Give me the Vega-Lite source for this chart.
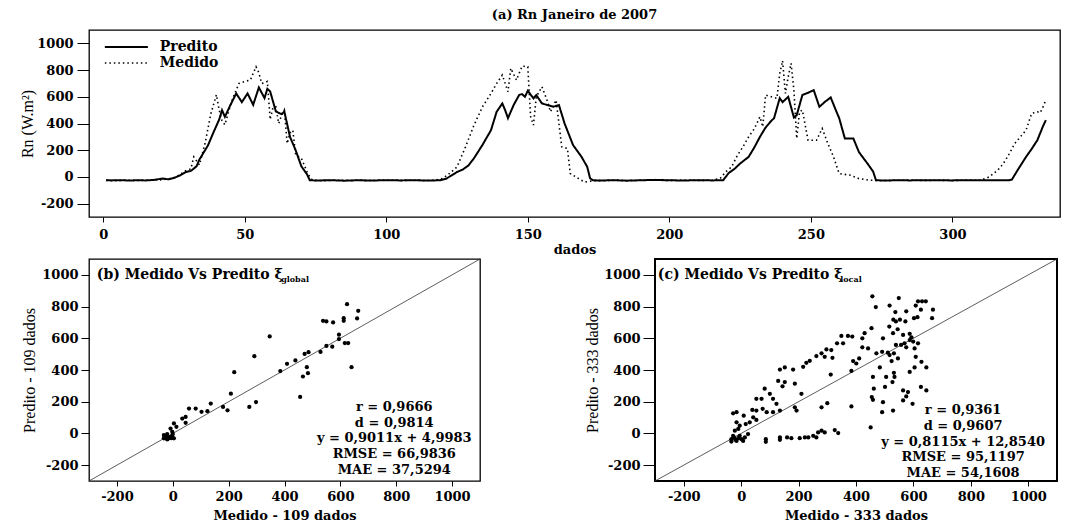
{
  "$schema": "https://vega.github.io/schema/vega-lite/v6.json",
  "background": "white",
  "padding": {"left": 19, "top": 8, "right": 3, "bottom": 0},
  "spacing": 0,
  "config": {
    "font": "DejaVu Serif",
    "view": {"stroke": "black", "strokeWidth": 1.3},
    "axis": {"domain": false, "grid": false, "ticks": true, "tickColor": "black", "tickWidth": 1, "labelColor": "black", "labelFont": "DejaVu Serif", "labelFontWeight": "bold", "labelFontSize": 13, "titleColor": "black", "labelFlush": false, "labelOverlap": false},
    "axisX": {"titleFont": "DejaVu Serif", "titleFontWeight": "bold", "titleFontSize": 13},
    "axisY": {"titleFont": "Liberation Serif", "titleFontWeight": "normal", "titleFontSize": 16},
    "title": {"font": "DejaVu Serif", "fontWeight": "bold", "fontSize": 13, "color": "black"}
  },
  "datasets": {
    "rn": [
      {"i":1,"s":"Predito","v":-25},{"i":3,"s":"Predito","v":-26},{"i":6,"s":"Predito","v":-24},{"i":9,"s":"Predito","v":-27},{"i":12,"s":"Predito","v":-25},{"i":15,"s":"Predito","v":-26},{"i":18,"s":"Predito","v":-22},{"i":21,"s":"Predito","v":-12},{"i":23,"s":"Predito","v":-18},{"i":25,"s":"Predito","v":-8},{"i":27,"s":"Predito","v":10},{"i":29,"s":"Predito","v":35},{"i":31,"s":"Predito","v":45},{"i":33,"s":"Predito","v":80},{"i":34,"s":"Predito","v":130},{"i":36,"s":"Predito","v":200},{"i":37,"s":"Predito","v":235},{"i":39,"s":"Predito","v":335},{"i":41,"s":"Predito","v":430},{"i":42,"s":"Predito","v":500},{"i":43,"s":"Predito","v":450},{"i":45,"s":"Predito","v":540},{"i":47,"s":"Predito","v":625},{"i":49,"s":"Predito","v":560},{"i":51,"s":"Predito","v":625},{"i":53,"s":"Predito","v":540},{"i":55,"s":"Predito","v":670},{"i":57,"s":"Predito","v":590},{"i":58,"s":"Predito","v":660},{"i":59,"s":"Predito","v":640},{"i":61,"s":"Predito","v":490},{"i":63,"s":"Predito","v":470},{"i":64,"s":"Predito","v":490},{"i":66,"s":"Predito","v":300},{"i":68,"s":"Predito","v":200},{"i":70,"s":"Predito","v":80},{"i":72,"s":"Predito","v":20},{"i":73,"s":"Predito","v":-25},{"i":76,"s":"Predito","v":-27},{"i":80,"s":"Predito","v":-24},{"i":85,"s":"Predito","v":-28},{"i":90,"s":"Predito","v":-25},{"i":95,"s":"Predito","v":-27},{"i":100,"s":"Predito","v":-24},{"i":105,"s":"Predito","v":-26},{"i":110,"s":"Predito","v":-25},{"i":115,"s":"Predito","v":-27},{"i":119,"s":"Predito","v":-25},{"i":121,"s":"Predito","v":-15},{"i":123,"s":"Predito","v":10},{"i":125,"s":"Predito","v":37},{"i":127,"s":"Predito","v":55},{"i":129,"s":"Predito","v":85},{"i":131,"s":"Predito","v":140},{"i":134,"s":"Predito","v":240},{"i":137,"s":"Predito","v":350},{"i":139,"s":"Predito","v":488},{"i":141,"s":"Predito","v":550},{"i":142,"s":"Predito","v":500},{"i":143,"s":"Predito","v":440},{"i":145,"s":"Predito","v":538},{"i":147,"s":"Predito","v":615},{"i":148,"s":"Predito","v":620},{"i":149,"s":"Predito","v":600},{"i":150,"s":"Predito","v":645},{"i":152,"s":"Predito","v":588},{"i":153,"s":"Predito","v":613},{"i":155,"s":"Predito","v":550},{"i":157,"s":"Predito","v":538},{"i":159,"s":"Predito","v":525},{"i":161,"s":"Predito","v":538},{"i":163,"s":"Predito","v":400},{"i":166,"s":"Predito","v":238},{"i":169,"s":"Predito","v":150},{"i":171,"s":"Predito","v":75},{"i":172,"s":"Predito","v":-10},{"i":173,"s":"Predito","v":-25},{"i":176,"s":"Predito","v":-27},{"i":180,"s":"Predito","v":-24},{"i":185,"s":"Predito","v":-28},{"i":190,"s":"Predito","v":-25},{"i":195,"s":"Predito","v":-22},{"i":200,"s":"Predito","v":-25},{"i":205,"s":"Predito","v":-27},{"i":210,"s":"Predito","v":-24},{"i":215,"s":"Predito","v":-26},{"i":219,"s":"Predito","v":-25},{"i":221,"s":"Predito","v":30},{"i":223,"s":"Predito","v":60},{"i":225,"s":"Predito","v":100},{"i":228,"s":"Predito","v":150},{"i":230,"s":"Predito","v":220},{"i":232,"s":"Predito","v":300},{"i":234,"s":"Predito","v":370},{"i":236,"s":"Predito","v":420},{"i":237,"s":"Predito","v":440},{"i":239,"s":"Predito","v":590},{"i":240,"s":"Predito","v":560},{"i":242,"s":"Predito","v":600},{"i":244,"s":"Predito","v":445},{"i":245,"s":"Predito","v":463},{"i":247,"s":"Predito","v":613},{"i":249,"s":"Predito","v":630},{"i":251,"s":"Predito","v":650},{"i":253,"s":"Predito","v":525},{"i":255,"s":"Predito","v":563},{"i":257,"s":"Predito","v":595},{"i":259,"s":"Predito","v":490},{"i":260,"s":"Predito","v":440},{"i":262,"s":"Predito","v":288},{"i":265,"s":"Predito","v":288},{"i":267,"s":"Predito","v":185},{"i":270,"s":"Predito","v":100},{"i":272,"s":"Predito","v":40},{"i":273,"s":"Predito","v":-25},{"i":276,"s":"Predito","v":-27},{"i":280,"s":"Predito","v":-25},{"i":285,"s":"Predito","v":-26},{"i":290,"s":"Predito","v":-24},{"i":295,"s":"Predito","v":-25},{"i":300,"s":"Predito","v":-26},{"i":305,"s":"Predito","v":-24},{"i":310,"s":"Predito","v":-25},{"i":315,"s":"Predito","v":-25},{"i":320,"s":"Predito","v":-25},{"i":321,"s":"Predito","v":-20},{"i":323,"s":"Predito","v":50},{"i":326,"s":"Predito","v":150},{"i":328,"s":"Predito","v":210},{"i":330,"s":"Predito","v":275},{"i":332,"s":"Predito","v":380},{"i":333,"s":"Predito","v":425},
      {"i":1,"s":"Medido","v":-25},{"i":4,"s":"Medido","v":-28},{"i":8,"s":"Medido","v":-24},{"i":12,"s":"Medido","v":-27},{"i":16,"s":"Medido","v":-25},{"i":20,"s":"Medido","v":-22},{"i":23,"s":"Medido","v":-15},{"i":25,"s":"Medido","v":-5},{"i":27,"s":"Medido","v":15},{"i":29,"s":"Medido","v":45},{"i":31,"s":"Medido","v":60},{"i":32,"s":"Medido","v":150},{"i":33,"s":"Medido","v":120},{"i":34,"s":"Medido","v":90},{"i":36,"s":"Medido","v":250},{"i":38,"s":"Medido","v":470},{"i":40,"s":"Medido","v":615},{"i":41,"s":"Medido","v":500},{"i":42,"s":"Medido","v":420},{"i":43,"s":"Medido","v":390},{"i":45,"s":"Medido","v":540},{"i":46,"s":"Medido","v":600},{"i":48,"s":"Medido","v":700},{"i":50,"s":"Medido","v":715},{"i":52,"s":"Medido","v":725},{"i":54,"s":"Medido","v":825},{"i":55,"s":"Medido","v":780},{"i":56,"s":"Medido","v":700},{"i":57,"s":"Medido","v":705},{"i":58,"s":"Medido","v":715},{"i":59,"s":"Medido","v":430},{"i":60,"s":"Medido","v":520},{"i":61,"s":"Medido","v":525},{"i":62,"s":"Medido","v":400},{"i":63,"s":"Medido","v":460},{"i":64,"s":"Medido","v":500},{"i":65,"s":"Medido","v":250},{"i":66,"s":"Medido","v":330},{"i":67,"s":"Medido","v":350},{"i":68,"s":"Medido","v":165},{"i":70,"s":"Medido","v":140},{"i":72,"s":"Medido","v":40},{"i":73,"s":"Medido","v":0},{"i":74,"s":"Medido","v":-25},{"i":78,"s":"Medido","v":-28},{"i":82,"s":"Medido","v":-24},{"i":86,"s":"Medido","v":-27},{"i":90,"s":"Medido","v":-25},{"i":95,"s":"Medido","v":-27},{"i":100,"s":"Medido","v":-24},{"i":105,"s":"Medido","v":-26},{"i":110,"s":"Medido","v":-25},{"i":115,"s":"Medido","v":-27},{"i":118,"s":"Medido","v":-22},{"i":120,"s":"Medido","v":-10},{"i":122,"s":"Medido","v":20},{"i":125,"s":"Medido","v":75},{"i":128,"s":"Medido","v":225},{"i":131,"s":"Medido","v":388},{"i":134,"s":"Medido","v":525},{"i":137,"s":"Medido","v":625},{"i":139,"s":"Medido","v":700},{"i":141,"s":"Medido","v":763},{"i":143,"s":"Medido","v":638},{"i":144,"s":"Medido","v":813},{"i":146,"s":"Medido","v":725},{"i":148,"s":"Medido","v":830},{"i":150,"s":"Medido","v":825},{"i":151,"s":"Medido","v":450},{"i":152,"s":"Medido","v":388},{"i":153,"s":"Medido","v":600},{"i":155,"s":"Medido","v":675},{"i":157,"s":"Medido","v":563},{"i":158,"s":"Medido","v":488},{"i":160,"s":"Medido","v":575},{"i":162,"s":"Medido","v":225},{"i":164,"s":"Medido","v":213},{"i":165,"s":"Medido","v":25},{"i":168,"s":"Medido","v":-13},{"i":170,"s":"Medido","v":-38},{"i":173,"s":"Medido","v":-30},{"i":176,"s":"Medido","v":-27},{"i":180,"s":"Medido","v":-25},{"i":185,"s":"Medido","v":-27},{"i":190,"s":"Medido","v":-24},{"i":195,"s":"Medido","v":-25},{"i":200,"s":"Medido","v":-26},{"i":205,"s":"Medido","v":-24},{"i":210,"s":"Medido","v":-26},{"i":215,"s":"Medido","v":-25},{"i":218,"s":"Medido","v":-10},{"i":220,"s":"Medido","v":40},{"i":222,"s":"Medido","v":75},{"i":224,"s":"Medido","v":160},{"i":226,"s":"Medido","v":225},{"i":228,"s":"Medido","v":300},{"i":230,"s":"Medido","v":360},{"i":232,"s":"Medido","v":450},{"i":233,"s":"Medido","v":375},{"i":234,"s":"Medido","v":613},{"i":236,"s":"Medido","v":600},{"i":238,"s":"Medido","v":588},{"i":239,"s":"Medido","v":775},{"i":240,"s":"Medido","v":870},{"i":241,"s":"Medido","v":625},{"i":242,"s":"Medido","v":750},{"i":243,"s":"Medido","v":850},{"i":244,"s":"Medido","v":650},{"i":245,"s":"Medido","v":288},{"i":246,"s":"Medido","v":488},{"i":247,"s":"Medido","v":500},{"i":249,"s":"Medido","v":275},{"i":252,"s":"Medido","v":275},{"i":254,"s":"Medido","v":363},{"i":256,"s":"Medido","v":250},{"i":258,"s":"Medido","v":150},{"i":260,"s":"Medido","v":25},{"i":264,"s":"Medido","v":13},{"i":267,"s":"Medido","v":-13},{"i":271,"s":"Medido","v":-25},{"i":275,"s":"Medido","v":-27},{"i":280,"s":"Medido","v":-25},{"i":285,"s":"Medido","v":-24},{"i":290,"s":"Medido","v":-26},{"i":295,"s":"Medido","v":-25},{"i":300,"s":"Medido","v":-27},{"i":305,"s":"Medido","v":-24},{"i":310,"s":"Medido","v":-25},{"i":313,"s":"Medido","v":0},{"i":316,"s":"Medido","v":50},{"i":318,"s":"Medido","v":100},{"i":320,"s":"Medido","v":170},{"i":322,"s":"Medido","v":250},{"i":324,"s":"Medido","v":300},{"i":326,"s":"Medido","v":350},{"i":328,"s":"Medido","v":475},{"i":330,"s":"Medido","v":488},{"i":331,"s":"Medido","v":480},{"i":332,"s":"Medido","v":525},{"i":333,"s":"Medido","v":575}
    ],
    "b": [
      {"m":624,"p":815},{"m":664,"p":773},{"m":660,"p":725},{"m":538,"p":710},{"m":550,"p":706},{"m":574,"p":700},{"m":612,"p":727},{"m":612,"p":710},{"m":595,"p":623},{"m":595,"p":595},{"m":616,"p":570},{"m":628,"p":570},{"m":550,"p":552},{"m":571,"p":547},{"m":529,"p":514},{"m":486,"p":512},{"m":472,"p":501},{"m":439,"p":460},{"m":409,"p":439},{"m":385,"p":393},{"m":480,"p":418},{"m":484,"p":380},{"m":466,"p":359},{"m":640,"p":418},{"m":456,"p":230},{"m":347,"p":612},{"m":292,"p":487},{"m":220,"p":386},{"m":208,"p":251},{"m":274,"p":167},{"m":298,"p":198},{"m":180,"p":167},{"m":196,"p":146},{"m":136,"p":188},{"m":124,"p":140},{"m":103,"p":136},{"m":82,"p":157},{"m":58,"p":157},{"m":46,"p":104},{"m":34,"p":94},{"m":46,"p":67},{"m":4,"p":63},{"m":13,"p":42},{"m":-8,"p":31},{"m":-2,"p":10},{"m":-20,"p":-4},{"m":-26,"p":-17},{"m":-14,"p":-25},{"m":-2,"p":-17},{"m":-32,"p":-31},{"m":-20,"p":-38},{"m":4,"p":-31},{"m":0,"p":-4},{"m":-8,"p":-21},{"m":-32,"p":-10},{"m":-25,"p":-28},{"m":-30,"p":-22},{"m":-15,"p":-32},{"m":-5,"p":-30}
    ],
    "c": [
      {"m":457,"p":865},{"m":469,"p":797},{"m":517,"p":806},{"m":549,"p":854},{"m":537,"p":765},{"m":575,"p":770},{"m":608,"p":806},{"m":616,"p":833},{"m":630,"p":833},{"m":643,"p":833},{"m":626,"p":780},{"m":668,"p":780},{"m":665,"p":727},{"m":602,"p":727},{"m":614,"p":733},{"m":572,"p":706},{"m":553,"p":717},{"m":530,"p":717},{"m":539,"p":706},{"m":516,"p":674},{"m":545,"p":657},{"m":529,"p":632},{"m":494,"p":600},{"m":564,"p":621},{"m":587,"p":628},{"m":593,"p":606},{"m":587,"p":589},{"m":599,"p":579},{"m":616,"p":568},{"m":569,"p":568},{"m":557,"p":558},{"m":539,"p":558},{"m":575,"p":543},{"m":604,"p":536},{"m":532,"p":505},{"m":517,"p":494},{"m":511,"p":509},{"m":491,"p":515},{"m":471,"p":505},{"m":546,"p":473},{"m":524,"p":456},{"m":608,"p":483},{"m":628,"p":452},{"m":604,"p":416},{"m":645,"p":416},{"m":483,"p":416},{"m":532,"p":382},{"m":534,"p":356},{"m":505,"p":356},{"m":459,"p":356},{"m":462,"p":282},{"m":587,"p":388},{"m":564,"p":271},{"m":581,"p":261},{"m":575,"p":233},{"m":626,"p":293},{"m":645,"p":271},{"m":597,"p":187},{"m":564,"p":208},{"m":527,"p":324},{"m":501,"p":293},{"m":455,"p":229},{"m":459,"p":212},{"m":494,"p":197},{"m":491,"p":134},{"m":529,"p":144},{"m":451,"p":38},
      {"m":454,"p":664},{"m":442,"p":536},{"m":411,"p":473},{"m":401,"p":441},{"m":422,"p":543},{"m":422,"p":600},{"m":430,"p":632},{"m":387,"p":611},{"m":372,"p":615},{"m":349,"p":615},{"m":355,"p":568},{"m":334,"p":568},{"m":314,"p":526},{"m":297,"p":530},{"m":318,"p":477},{"m":291,"p":483},{"m":280,"p":505},{"m":262,"p":488},{"m":239,"p":458},{"m":227,"p":445},{"m":216,"p":420},{"m":312,"p":371},{"m":390,"p":456},{"m":384,"p":394},{"m":181,"p":403},{"m":152,"p":416},{"m":135,"p":403},{"m":152,"p":324},{"m":144,"p":297},{"m":187,"p":314},{"m":129,"p":331},{"m":100,"p":250},{"m":82,"p":282},{"m":53,"p":218},{"m":71,"p":218},{"m":111,"p":218},{"m":123,"p":187},{"m":210,"p":250},{"m":187,"p":165},{"m":193,"p":144},{"m":135,"p":144},{"m":111,"p":134},{"m":89,"p":134},{"m":75,"p":155},{"m":53,"p":144},{"m":39,"p":148},{"m":-16,"p":134},{"m":-28,"p":127},{"m":9,"p":112},{"m":42,"p":102},{"m":53,"p":85},{"m":30,"p":70},{"m":16,"p":59},{"m":-5,"p":49},{"m":-16,"p":70},{"m":-10,"p":28},{"m":-22,"p":17},{"m":-28,"p":-15},{"m":-34,"p":-36},{"m":-16,"p":-47},{"m":1,"p":-36},{"m":13,"p":-25},{"m":-5,"p":-15},{"m":24,"p":-4},{"m":-34,"p":-51},{"m":7,"p":-47},{"m":-25,"p":-25},{"m":-20,"p":-40},{"m":-10,"p":-30},{"m":300,"p":191},{"m":280,"p":165},{"m":384,"p":170},
      {"m":86,"p":-36},{"m":86,"p":-53},{"m":135,"p":-25},{"m":135,"p":-40},{"m":160,"p":-25},{"m":175,"p":-30},{"m":204,"p":-30},{"m":222,"p":-25},{"m":234,"p":-25},{"m":251,"p":-15},{"m":268,"p":6},{"m":280,"p":17},{"m":291,"p":6},{"m":326,"p":21},{"m":338,"p":2},{"m":262,"p":-25}
    ]
  },
  "vconcat": [
    {
      "width": 971,
      "height": 187,
      "title": {"text": "(a) Rn Janeiro de 2007", "offset": 8},
      "layer": [
        {
          "data": {"name": "rn"},
          "mark": {"type": "line", "color": "black", "clip": true},
          "encoding": {
            "x": {"field": "i", "type": "quantitative", "title": "dados", "scale": {"domain": [-5, 338], "nice": false, "zero": false}, "axis": {"values": [0, 50, 100, 150, 200, 250, 300], "labelExpr": "'' + datum.value", "labelOverlap": false, "tickSize": 5, "labelPadding": 6, "titlePadding": 2}},
            "y": {"field": "v", "type": "quantitative", "title": "Rn (W.m²)", "scale": {"domain": [-300, 1100], "nice": false, "zero": false}, "axis": {"values": [-200, 0, 200, 400, 600, 800, 1000], "labelExpr": "'' + datum.value", "labelOverlap": false, "tickSize": 12, "labelPadding": 4, "titlePadding": 1}},
            "strokeDash": {"field": "s", "type": "nominal", "scale": {"domain": ["Predito", "Medido"], "range": [[1, 0], [1.5, 3]]}, "legend": null},
            "strokeWidth": {"field": "s", "type": "nominal", "scale": {"domain": ["Predito", "Medido"], "range": [2, 1.6]}, "legend": null}
          }
        },
        {
          "data": {"values": [{}]},
          "mark": {"type": "rule", "color": "black", "strokeWidth": 2},
          "encoding": {
            "x": {"datum": 0.6, "type": "quantitative", "title": "dados", "axis": {"values": [0, 50, 100, 150, 200, 250, 300], "labelExpr": "'' + datum.value", "labelOverlap": false, "tickSize": 5, "labelPadding": 6, "titlePadding": 2}},
            "x2": {"datum": 15.8},
            "y": {"datum": 973, "type": "quantitative", "title": "Rn (W.m²)", "axis": {"values": [-200, 0, 200, 400, 600, 800, 1000], "labelExpr": "'' + datum.value", "labelOverlap": false, "tickSize": 12, "labelPadding": 4, "titlePadding": 1}}
          }
        },
        {
          "data": {"values": [{}]},
          "mark": {"type": "rule", "color": "black", "strokeWidth": 1.6, "strokeDash": [1.5, 3]},
          "encoding": {
            "x": {"datum": 0.6, "type": "quantitative", "title": "dados", "axis": {"values": [0, 50, 100, 150, 200, 250, 300], "labelExpr": "'' + datum.value", "labelOverlap": false, "tickSize": 5, "labelPadding": 6, "titlePadding": 2}},
            "x2": {"datum": 15.8},
            "y": {"datum": 853, "type": "quantitative", "title": "Rn (W.m²)", "axis": {"values": [-200, 0, 200, 400, 600, 800, 1000], "labelExpr": "'' + datum.value", "labelOverlap": false, "tickSize": 12, "labelPadding": 4, "titlePadding": 1}}
          }
        },
        {
          "data": {"values": [{}]},
          "mark": {"type": "text", "align": "left", "baseline": "middle", "fontWeight": "bold", "fontSize": 14, "color": "black", "text": "Predito"},
          "encoding": {
            "x": {"datum": 20, "type": "quantitative", "title": "dados", "axis": {"values": [0, 50, 100, 150, 200, 250, 300], "labelExpr": "'' + datum.value", "labelOverlap": false, "tickSize": 5, "labelPadding": 6, "titlePadding": 2}},
            "y": {"datum": 973, "type": "quantitative", "title": "Rn (W.m²)", "axis": {"values": [-200, 0, 200, 400, 600, 800, 1000], "labelExpr": "'' + datum.value", "labelOverlap": false, "tickSize": 12, "labelPadding": 4, "titlePadding": 1}}
          }
        },
        {
          "data": {"values": [{}]},
          "mark": {"type": "text", "align": "left", "baseline": "middle", "fontWeight": "bold", "fontSize": 14, "color": "black", "text": "Medido"},
          "encoding": {
            "x": {"datum": 20, "type": "quantitative", "title": "dados", "axis": {"values": [0, 50, 100, 150, 200, 250, 300], "labelExpr": "'' + datum.value", "labelOverlap": false, "tickSize": 5, "labelPadding": 6, "titlePadding": 2}},
            "y": {"datum": 853, "type": "quantitative", "title": "Rn (W.m²)", "axis": {"values": [-200, 0, 200, 400, 600, 800, 1000], "labelExpr": "'' + datum.value", "labelOverlap": false, "tickSize": 12, "labelPadding": 4, "titlePadding": 1}}
          }
        }
      ]
    },
    {
      "spacing": 101,
      "hconcat": [
        {
          "width": 391,
          "height": 222,
          "layer": [
            {
              "data": {"values": [{}]},
              "mark": {"type": "rule", "color": "#333", "strokeWidth": 0.8},
              "encoding": {
                "x": {"datum": -300, "type": "quantitative", "title": "Medido - 109 dados", "scale": {"domain": [-300, 1100], "nice": false, "zero": false}, "axis": {"values": [-200, 0, 200, 400, 600, 800, 1000], "labelExpr": "'' + datum.value", "labelOverlap": false, "tickSize": 5, "labelPadding": 4, "titlePadding": 6}},
                "y": {"datum": -300, "type": "quantitative", "title": "Predito - 109 dados", "scale": {"domain": [-300, 1100], "nice": false, "zero": false}, "axis": {"values": [-200, 0, 200, 400, 600, 800, 1000], "labelExpr": "'' + datum.value", "labelOverlap": false, "tickSize": 8, "labelPadding": 3, "titlePadding": 4}},
                "x2": {"datum": 1100},
                "y2": {"datum": 1100}
              }
            },
            {
              "data": {"name": "b"},
              "mark": {"type": "circle", "color": "black", "size": 18, "opacity": 1},
              "encoding": {
                "x": {"field": "m", "type": "quantitative", "title": "Medido - 109 dados", "scale": {"domain": [-300, 1100], "nice": false, "zero": false}, "axis": {"values": [-200, 0, 200, 400, 600, 800, 1000], "labelExpr": "'' + datum.value", "labelOverlap": false, "tickSize": 5, "labelPadding": 4, "titlePadding": 6}},
                "y": {"field": "p", "type": "quantitative", "title": "Predito - 109 dados", "scale": {"domain": [-300, 1100], "nice": false, "zero": false}, "axis": {"values": [-200, 0, 200, 400, 600, 800, 1000], "labelExpr": "'' + datum.value", "labelOverlap": false, "tickSize": 8, "labelPadding": 3, "titlePadding": 4}}
              }
            },
            {
              "data": {"values": [{}]},
              "mark": {"type": "text", "align": "left", "baseline": "middle", "fontWeight": "bold", "fontSize": 14, "color": "black", "text": "(b) Medido Vs Predito ξ"},
              "encoding": {
                "x": {"datum": -272, "type": "quantitative", "title": "Medido - 109 dados", "axis": {"values": [-200, 0, 200, 400, 600, 800, 1000], "labelExpr": "'' + datum.value", "labelOverlap": false, "tickSize": 5, "labelPadding": 4, "titlePadding": 6}},
                "y": {"datum": 1000, "type": "quantitative", "title": "Predito - 109 dados", "axis": {"values": [-200, 0, 200, 400, 600, 800, 1000], "labelExpr": "'' + datum.value", "labelOverlap": false, "tickSize": 8, "labelPadding": 3, "titlePadding": 4}}
              }
            },
            {
              "data": {"values": [{}]},
              "mark": {"type": "text", "align": "left", "baseline": "middle", "fontWeight": "bold", "fontSize": 8, "color": "black", "text": "global"},
              "encoding": {
                "x": {"datum": 388, "type": "quantitative", "title": "Medido - 109 dados", "axis": {"values": [-200, 0, 200, 400, 600, 800, 1000], "labelExpr": "'' + datum.value", "labelOverlap": false, "tickSize": 5, "labelPadding": 4, "titlePadding": 6}},
                "y": {"datum": 968, "type": "quantitative", "title": "Predito - 109 dados", "axis": {"values": [-200, 0, 200, 400, 600, 800, 1000], "labelExpr": "'' + datum.value", "labelOverlap": false, "tickSize": 8, "labelPadding": 3, "titlePadding": 4}}
              }
            },
            {
              "data": {"values": [{}]},
              "mark": {"type": "text", "align": "center", "baseline": "middle", "fontWeight": "bold", "fontSize": 13, "lineHeight": 15.7, "color": "black", "text": ["r = 0,9666", "d = 0,9814", "y = 0,9011x + 4,9983", "RMSE = 66,9836", "MAE = 37,5294"]},
              "encoding": {
                "x": {"datum": 793, "type": "quantitative", "title": "Medido - 109 dados", "axis": {"values": [-200, 0, 200, 400, 600, 800, 1000], "labelExpr": "'' + datum.value", "labelOverlap": false, "tickSize": 5, "labelPadding": 4, "titlePadding": 6}},
                "y": {"datum": 167, "type": "quantitative", "title": "Predito - 109 dados", "axis": {"values": [-200, 0, 200, 400, 600, 800, 1000], "labelExpr": "'' + datum.value", "labelOverlap": false, "tickSize": 8, "labelPadding": 3, "titlePadding": 4}}
              }
            }
          ]
        },
        {
          "width": 402,
          "height": 222,
          "view": {"strokeWidth": 2},
          "layer": [
            {
              "data": {"values": [{}]},
              "mark": {"type": "rule", "color": "#333", "strokeWidth": 0.8},
              "encoding": {
                "x": {"datum": -300, "type": "quantitative", "title": "Medido - 333 dados", "scale": {"domain": [-300, 1100], "nice": false, "zero": false}, "axis": {"values": [-200, 0, 200, 400, 600, 800, 1000], "labelExpr": "'' + datum.value", "labelOverlap": false, "tickSize": 5, "labelPadding": 4, "titlePadding": 6}},
                "y": {"datum": -300, "type": "quantitative", "title": "Predito - 333 dados", "scale": {"domain": [-300, 1100], "nice": false, "zero": false}, "axis": {"values": [-200, 0, 200, 400, 600, 800, 1000], "labelExpr": "'' + datum.value", "labelOverlap": false, "tickSize": 12, "labelPadding": 3, "titlePadding": 3}},
                "x2": {"datum": 1100},
                "y2": {"datum": 1100}
              }
            },
            {
              "data": {"name": "c"},
              "mark": {"type": "circle", "color": "black", "size": 18, "opacity": 1},
              "encoding": {
                "x": {"field": "m", "type": "quantitative", "title": "Medido - 333 dados", "scale": {"domain": [-300, 1100], "nice": false, "zero": false}, "axis": {"values": [-200, 0, 200, 400, 600, 800, 1000], "labelExpr": "'' + datum.value", "labelOverlap": false, "tickSize": 5, "labelPadding": 4, "titlePadding": 6}},
                "y": {"field": "p", "type": "quantitative", "title": "Predito - 333 dados", "scale": {"domain": [-300, 1100], "nice": false, "zero": false}, "axis": {"values": [-200, 0, 200, 400, 600, 800, 1000], "labelExpr": "'' + datum.value", "labelOverlap": false, "tickSize": 12, "labelPadding": 3, "titlePadding": 3}}
              }
            },
            {
              "data": {"values": [{}]},
              "mark": {"type": "text", "align": "left", "baseline": "middle", "fontWeight": "bold", "fontSize": 14, "color": "black", "text": "(c) Medido Vs Predito ξ"},
              "encoding": {
                "x": {"datum": -290, "type": "quantitative", "title": "Medido - 333 dados", "axis": {"values": [-200, 0, 200, 400, 600, 800, 1000], "labelExpr": "'' + datum.value", "labelOverlap": false, "tickSize": 5, "labelPadding": 4, "titlePadding": 6}},
                "y": {"datum": 1000, "type": "quantitative", "title": "Predito - 333 dados", "axis": {"values": [-200, 0, 200, 400, 600, 800, 1000], "labelExpr": "'' + datum.value", "labelOverlap": false, "tickSize": 12, "labelPadding": 3, "titlePadding": 3}}
              }
            },
            {
              "data": {"values": [{}]},
              "mark": {"type": "text", "align": "left", "baseline": "middle", "fontWeight": "bold", "fontSize": 8, "color": "black", "text": "local"},
              "encoding": {
                "x": {"datum": 345, "type": "quantitative", "title": "Medido - 333 dados", "axis": {"values": [-200, 0, 200, 400, 600, 800, 1000], "labelExpr": "'' + datum.value", "labelOverlap": false, "tickSize": 5, "labelPadding": 4, "titlePadding": 6}},
                "y": {"datum": 968, "type": "quantitative", "title": "Predito - 333 dados", "axis": {"values": [-200, 0, 200, 400, 600, 800, 1000], "labelExpr": "'' + datum.value", "labelOverlap": false, "tickSize": 12, "labelPadding": 3, "titlePadding": 3}}
              }
            },
            {
              "data": {"values": [{}]},
              "mark": {"type": "text", "align": "center", "baseline": "middle", "fontWeight": "bold", "fontSize": 13, "lineHeight": 15.7, "color": "black", "text": ["r = 0,9361", "d = 0,9607", "y = 0,8115x + 12,8540", "RMSE = 95,1197", "MAE = 54,1608"]},
              "encoding": {
                "x": {"datum": 773, "type": "quantitative", "title": "Medido - 333 dados", "axis": {"values": [-200, 0, 200, 400, 600, 800, 1000], "labelExpr": "'' + datum.value", "labelOverlap": false, "tickSize": 5, "labelPadding": 4, "titlePadding": 6}},
                "y": {"datum": 146, "type": "quantitative", "title": "Predito - 333 dados", "axis": {"values": [-200, 0, 200, 400, 600, 800, 1000], "labelExpr": "'' + datum.value", "labelOverlap": false, "tickSize": 12, "labelPadding": 3, "titlePadding": 3}}
              }
            }
          ]
        }
      ]
    }
  ]
}
